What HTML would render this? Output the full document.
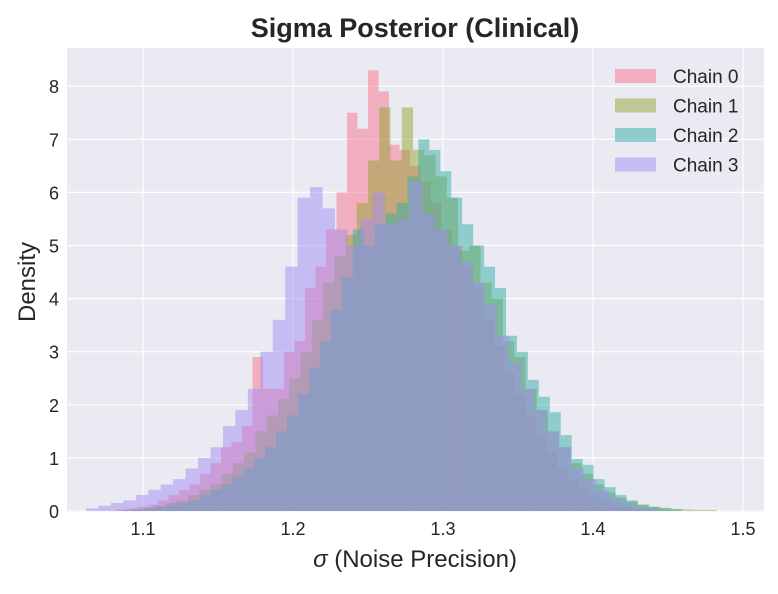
<!DOCTYPE html>
<html><head><meta charset="utf-8"><style>
body{margin:0;background:#fff;}
svg text{font-family:"Liberation Sans",sans-serif;}
</style></head><body>
<svg id="chart" width="778" height="589" xmlns="http://www.w3.org/2000/svg">
<rect x="0" y="0" width="778" height="589" fill="#fff"/>
<rect x="67" y="48" width="697" height="464" fill="#eaeaf2"/>
<g id="grid"></g>
<g id="bars"></g>
<g id="ticks"></g>
<text x="415" y="37" text-anchor="middle" font-size="27" font-weight="bold" fill="#262626">Sigma Posterior (Clinical)</text>
<text x="415" y="567" text-anchor="middle" font-size="24" fill="#262626"><tspan font-style="italic">σ</tspan> (Noise Precision)</text>
<text transform="translate(35,282) rotate(-90)" text-anchor="middle" font-size="24" fill="#262626">Density</text>
<g id="legend"></g>
</svg>
<script>
const chainNames = ["Chain 0","Chain 1","Chain 2","Chain 3"];
const chainColors = ["#f77189","#97a431","#36ada4","#a48cf4"];
const chainWidths = [0.007, 0.0075, 0.0073, 0.0083];
const chainStarts = [1.082, 1.0925, 1.0865, 1.062];
const chain0 = [0.03,0.05,0.08,0.12,0.2,0.3,0.4,0.5,0.7,0.9,1.2,1.3,1.6,2.9,2.3,2.3,3.0,3.2,4.2,4.6,5.3,6.0,7.5,7.2,8.3,7.9,6.9,6.8,6.5,6.2,5.8,5.3,5.0,4.6,4.2,3.6,3.1,2.6,2.2,1.8,1.4,1.1,0.8,0.6,0.45,0.3,0.2,0.12,0.08,0.05,0.03];
const chain1 = [0.03,0.06,0.1,0.15,0.2,0.3,0.4,0.5,0.7,0.9,1.1,1.5,1.8,2.1,2.5,3.0,3.6,4.3,4.8,5.2,5.8,6.6,7.6,6.6,7.6,6.8,6.7,6.3,5.9,4.9,5.0,4.3,4.0,3.2,2.9,2.3,1.9,1.5,1.2,0.9,0.7,0.5,0.35,0.25,0.18,0.12,0.08,0.06,0.04,0.03,0.02,0.02];
const chain2 = [0.02,0.03,0.05,0.08,0.1,0.15,0.2,0.3,0.4,0.5,0.65,0.8,1.0,1.2,1.5,1.8,2.2,2.7,3.2,3.8,4.4,5.3,5.0,5.4,5.6,5.8,6.3,7.0,6.8,6.4,5.9,5.4,5.0,4.6,4.2,3.3,3.0,2.47,2.15,1.86,1.43,0.98,0.87,0.6,0.45,0.3,0.2,0.12,0.08,0.05,0.03];
const chain3 = [0.05,0.1,0.15,0.2,0.3,0.4,0.5,0.6,0.8,1.0,1.2,1.6,1.9,2.3,3.0,3.6,4.6,5.9,6.1,5.7,5.3,5.0,5.5,6.0,5.4,5.5,6.2,5.6,5.3,5.0,4.7,4.3,3.9,3.3,2.8,2.3,1.9,1.5,1.2,0.8,0.6,0.4,0.25,0.15,0.08,0.04];
const xTicks = [1.1,1.2,1.3,1.4,1.5];
const yTicks = [0,1,2,3,4,5,6,7,8];

const NS="http://www.w3.org/2000/svg";
const xScale = v => 143 + (v-1.1)*1500;
const yScale = d => 511 - d*53.1;
function mk(tag, attrs, parent){const e=document.createElementNS(NS,tag);for(const k in attrs)e.setAttribute(k,attrs[k]);parent.appendChild(e);return e;}

const grid=document.getElementById('grid');
const ticks=document.getElementById('ticks');
xTicks.forEach(t=>{
  const l=mk('line',{x1:xScale(t),x2:xScale(t),y1:48,y2:512,stroke:'#fff','stroke-width':1.2},grid);
  
  
  const tx=mk('text',{x:xScale(t),y:535,'text-anchor':'middle','font-size':18,fill:'#262626'},ticks);
  tx.textContent=t.toFixed(1);
  
  
});
yTicks.forEach(t=>{
  const l=mk('line',{x1:67,x2:764,y1:yScale(t),y2:yScale(t),stroke:'#fff','stroke-width':1.2},grid);
  
  
  const tx=mk('text',{x:59,y:yScale(t)+7,'text-anchor':'end','font-size':18,fill:'#262626'},ticks);
  tx.textContent=String(t);
  
  
});

const bars=document.getElementById('bars');
[chain0,chain1,chain2,chain3].forEach((vals,ci)=>{
  const g=mk('g',{},bars);
  
  
  const w=chainWidths[ci];
  vals.forEach((d,i)=>{
    const x0=xScale(chainStarts[ci]+i*w), x1=xScale(chainStarts[ci]+(i+1)*w);
    const r=mk('rect',{x:x0,y:yScale(d),width:x1-x0+0.01,height:yScale(0)-yScale(d),fill:chainColors[ci],'fill-opacity':0.5},g);
    
    
  });
});

const legend=document.getElementById('legend');
chainNames.forEach((n,i)=>{
  const y=76+i*29.5;
  const s=mk('rect',{x:615,y:y-7,width:41,height:14,fill:chainColors[i],'fill-opacity':0.5},legend);
  
  
  const t=mk('text',{x:673,y:y+7,'font-size':19,fill:'#262626'},legend);
  t.textContent=n;
  
  
});
</script>
</body></html>
